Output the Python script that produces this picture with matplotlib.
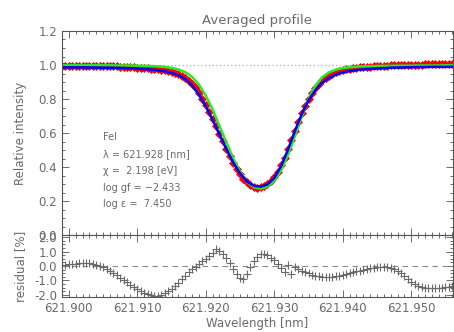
import numpy as np
import matplotlib
matplotlib.use("Agg")
import matplotlib.pyplot as plt
from matplotlib.ticker import MultipleLocator, FormatStrFormatter

# ---------------- data ----------------
wl_start = 621.899
obs_step = 0.0005
fit_step = 0.001

observed = [0.995, 0.996, 0.996, 0.996, 0.996, 0.996, 0.996, 0.996, 0.995, 0.995,
            0.995, 0.994, 0.994, 0.993, 0.993, 0.992, 0.992, 0.991, 0.990, 0.989,
            0.988, 0.987, 0.985, 0.984, 0.982, 0.980, 0.978, 0.976, 0.974, 0.971,
            0.968, 0.964, 0.959, 0.953, 0.945, 0.936, 0.924, 0.908, 0.888, 0.864,
            0.835, 0.802, 0.765, 0.726, 0.684, 0.640, 0.596, 0.552, 0.508, 0.466,
            0.426, 0.390, 0.358, 0.331, 0.309, 0.293, 0.283, 0.279, 0.280, 0.286,
            0.298, 0.316, 0.340, 0.372, 0.410, 0.455, 0.505, 0.558, 0.612, 0.665,
            0.715, 0.761, 0.802, 0.837, 0.866, 0.890, 0.909, 0.925, 0.938, 0.948,
            0.956, 0.963, 0.969, 0.974, 0.978, 0.981, 0.984, 0.986, 0.988, 0.990,
            0.991, 0.993, 0.994, 0.995, 0.996, 0.997, 0.998, 0.998, 0.999, 1.000,
            1.000, 1.001, 1.001, 1.002, 1.002, 1.002, 1.003, 1.003, 1.003, 1.004,
            1.004, 1.004, 1.004, 1.004, 1.005]

fit_blue = [0.986, 0.986, 0.986, 0.986, 0.985, 0.985, 0.984, 0.984, 0.983, 0.982,
            0.981, 0.979, 0.976, 0.973, 0.969, 0.963, 0.954, 0.940, 0.917, 0.880,
            0.826, 0.757, 0.677, 0.591, 0.505, 0.427, 0.362, 0.315, 0.290, 0.284,
            0.297, 0.335, 0.405, 0.502, 0.610, 0.710, 0.792, 0.852, 0.895, 0.924,
            0.943, 0.956, 0.964, 0.970, 0.974, 0.977, 0.980, 0.982, 0.984, 0.985,
            0.986, 0.987, 0.988, 0.988, 0.989, 0.989, 0.989, 0.990]

fit_green = [0.998, 0.998, 0.998, 0.998, 0.998, 0.998, 0.998, 0.998, 0.997, 0.997,
             0.997, 0.996, 0.995, 0.994, 0.992, 0.989, 0.983, 0.974, 0.958, 0.930,
             0.885, 0.820, 0.738, 0.642, 0.545, 0.452, 0.372, 0.313, 0.282, 0.273,
             0.284, 0.318, 0.380, 0.470, 0.580, 0.695, 0.800, 0.878, 0.928, 0.957,
             0.973, 0.982, 0.987, 0.990, 0.992, 0.993, 0.994, 0.995, 0.995, 0.996,
             0.996, 0.996, 0.997, 0.997, 0.997, 0.997, 0.998, 0.998]

residual = [0.10, 0.10, 0.12, 0.12, 0.15, 0.18, 0.20, 0.20, 0.18, 0.14,
            0.08, 0.02, -0.08, -0.20, -0.33, -0.48, -0.65, -0.82, -0.98, -1.14,
            -1.30, -1.46, -1.60, -1.74, -1.86, -1.96, -2.03, -2.06, -2.05, -2.00,
            -1.90, -1.76, -1.58, -1.38, -1.16, -0.92, -0.68, -0.45, -0.24, -0.04,
            0.15, 0.34, 0.52, 0.70, 0.90, 1.15, 1.05, 0.82, 0.55, 0.22,
            -0.18, -0.55, -0.85, -0.88, -0.55, -0.05, 0.35, 0.65, 0.82, 0.85,
            0.75, 0.58, 0.40, 0.12, -0.15, -0.45, 0.05, -0.55, -0.10, -0.20,
            -0.35, -0.45, -0.52, -0.60, -0.68, -0.72, -0.75, -0.76, -0.76, -0.74,
            -0.70, -0.66, -0.60, -0.54, -0.48, -0.42, -0.37, -0.32, -0.27, -0.22,
            -0.17, -0.13, -0.10, -0.08, -0.08, -0.10, -0.15, -0.24, -0.36, -0.52,
            -0.70, -0.90, -1.08, -1.24, -1.38, -1.48, -1.54, -1.56, -1.56, -1.55,
            -1.53, -1.50, -1.47, -1.44, -1.40]

line_info = ["FeI",
             "\u03bb = 621.928 [nm]",
             "\u03c7 =  2.198 [eV]",
             "log gf = \u22122.433",
             "log \u03b5 =  7.450"]

wl_obs = wl_start + obs_step * np.arange(len(observed))
wl_fit = wl_start + fit_step * np.arange(len(fit_blue))

# ---------------- style ----------------
TXT = "#6a6a6a"
AX = "#555555"
plt.rcParams["font.family"] = ["DejaVu Sans"]

fig = plt.figure(figsize=(4.54, 3.32), dpi=100)
W, H = 454, 332
def rect(x0, y0, x1, y1):
    return [x0 / W, 1 - y1 / H, (x1 - x0) / W, (y1 - y0) / H]

ax1 = fig.add_axes(rect(62, 31, 453, 235))
ax2 = fig.add_axes(rect(62, 235, 453, 297), sharex=ax1)

for ax in (ax1, ax2):
    for s in ax.spines.values():
        s.set_color(AX)
        s.set_linewidth(0.8)
    ax.tick_params(which="both", direction="in", top=True, right=True,
                   colors=AX, labelcolor=TXT, labelsize=8.5, width=0.6)
    ax.tick_params(which="major", length=5)
    ax.tick_params(which="minor", length=2.5)
    ax.xaxis.set_major_locator(MultipleLocator(0.01))
    ax.xaxis.set_minor_locator(MultipleLocator(0.001))

# top panel
ax1.axhline(1.0, color="#b0b0b0", lw=0.9, ls=(0, (1, 2)))
ax1.plot(wl_obs, observed, ls="none", marker="D", ms=3.8, color="red",
         mec="red", mew=0.5)
ax1.plot(wl_fit, fit_green, color="#22ee22", lw=1.8)
ax1.plot(wl_fit, fit_blue, color="blue", lw=1.8)
ax1.set_xlim(621.899, 621.9561)
ax1.set_ylim(0.0, 1.2)
ax1.yaxis.set_major_locator(MultipleLocator(0.2))
ax1.yaxis.set_minor_locator(MultipleLocator(0.05))
ax1.yaxis.set_major_formatter(FormatStrFormatter("%.1f"))
ax1.tick_params(axis="x", labelbottom=False)
ax1.set_ylabel("Relative intensity", color=TXT, fontsize=8.5)
ax1.set_title("Averaged profile", color=TXT, fontsize=9.5, pad=5)

for i, t in enumerate(line_info):
    ax1.text(0.105, 0.478 - i * 0.082, t, transform=ax1.transAxes,
             color=TXT, fontsize=7, va="center", ha="left")

# residual panel
ax2.axhline(0.0, color="#8a8a8a", lw=0.8, ls=(0, (5, 4)))
ax2.plot(wl_obs, residual, ls="none", marker="+", ms=5.5, mew=0.8, color="#6a6a6a")
ax2.set_ylim(-2.15, 2.15)
ax2.yaxis.set_major_locator(MultipleLocator(1.0))
ax2.yaxis.set_minor_locator(MultipleLocator(0.25))
ax2.yaxis.set_major_formatter(FormatStrFormatter("%.1f"))
ax2.xaxis.set_major_formatter(FormatStrFormatter("%.3f"))
ax2.set_ylabel("residual [%]", color=TXT, fontsize=8.5)
ax2.set_xlabel("Wavelength [nm]", color=TXT, fontsize=8.5, labelpad=1.5)
ax1.yaxis.set_label_coords(-0.09, 0.5)
ax2.yaxis.set_label_coords(-0.09, 0.5)

fig.savefig("out.png", dpi=100, facecolor="white")
